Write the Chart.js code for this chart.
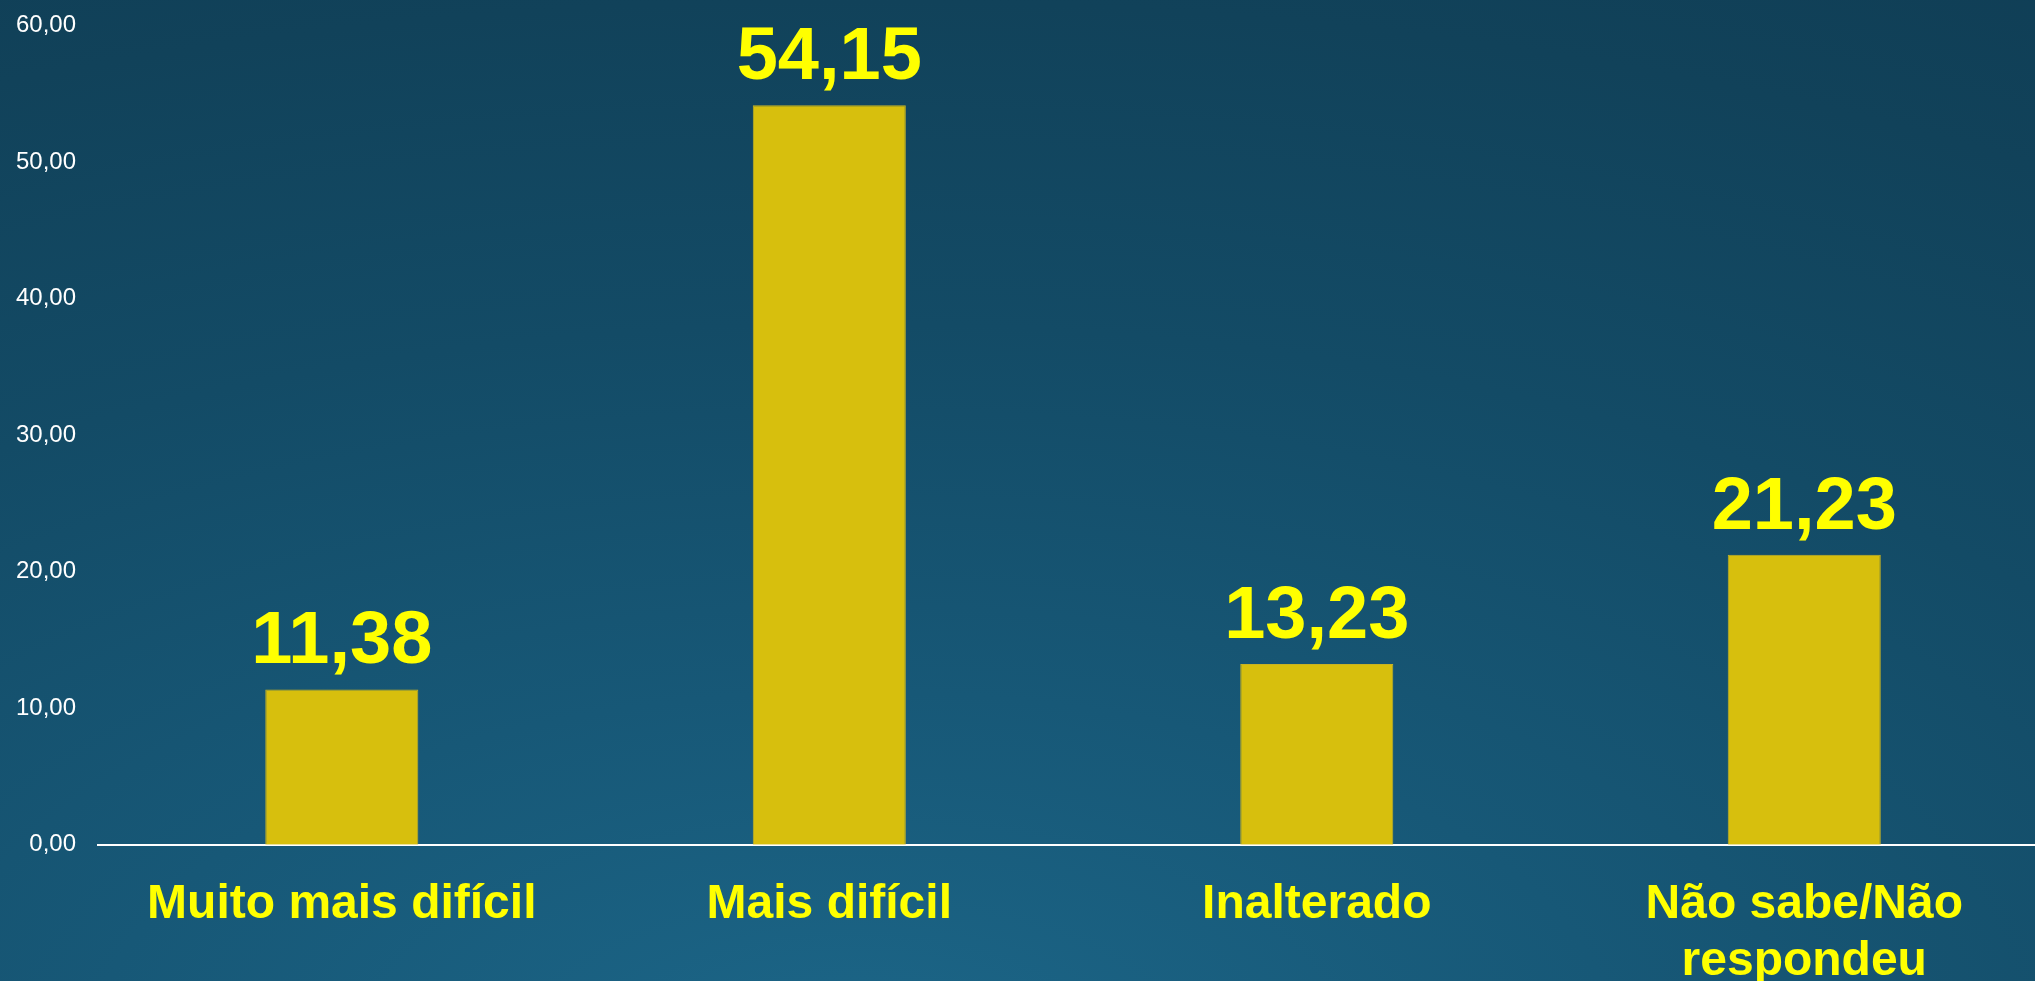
<!DOCTYPE html>
<html>
<head>
<meta charset="utf-8">
<script src="https://cdn.jsdelivr.net/npm/chart.js@4"></script>
<style>
  html, body { margin: 0; padding: 0; overflow: hidden; }
  body {
    width: 2035px; height: 981px;
    background: radial-gradient(ellipse 150% 150% at 42% 108%, #1c6688 0%, #175877 25%, #134b66 50%, #11425a 72%, #0e3950 100%);
  }
  #wrap { position: absolute; left: -6px; top: -11px; width: 2054px; height: 1033px; }
</style>
</head>
<body>
<div id="wrap"><canvas id="canvas"></canvas></div>
<script>
"use strict"

const categorias = [['Muito mais difícil'], ['Mais difícil'], ['Inalterado'], ['Não sabe/Não', 'respondeu']];
const valores = [11.38, 54.15, 13.23, 21.23];
const ticksY = [0, 10, 20, 30, 40, 50, 60];

function formata(v){
    return v.toFixed(2).replace('.', ',');
}

// etichette sopra le barre
const etichette = {
    id: 'etichette',
    afterDatasetsDraw(chart){
        let ctx = chart.ctx;
        let meta = chart.getDatasetMeta(0);
        ctx.save();
        ctx.fillStyle = '#ffff00';
        ctx.font = 'bold 74px "Liberation Sans", Arial, sans-serif';
        ctx.textAlign = 'center';
        ctx.textBaseline = 'alphabetic';
        meta.data.forEach(function(bar, i){
            ctx.fillText(formata(valores[i]), bar.x, bar.y - 26);
        });
        ctx.restore();
    }
};

function creaGrafico(){
    let ctx = document.getElementById('canvas').getContext('2d');
    let myChart = new Chart(ctx, {
        type: 'bar',
        data: {
            labels: categorias,
            datasets: [{
                data: valores,
                backgroundColor: '#d7bf0d',
                borderColor: '#c9b322',
                borderWidth: 1,
                categoryPercentage: 1,
                barPercentage: 0.314
            }]
        },
        options: {
            responsive: true,
            maintainAspectRatio: false,
            animation: false,
            layout: { padding: { left: 0, top: 4, right: 0, bottom: 0 } },
            plugins: {
                legend: { display: false },
                tooltip: { enabled: false }
            },
            scales: {
                x: {
                    grid: { display: false, drawTicks: false },
                    border: { display: true, color: '#ffffff', width: 2 },
                    ticks: {
                        color: '#ffff00',
                        padding: 31,
                        maxRotation: 0,
                        font: { family: '"Liberation Sans", Arial, sans-serif', size: 48, weight: 'bold', lineHeight: 1.2 }
                    }
                },
                y: {
                    min: 0,
                    max: 60,
                    afterBuildTicks(axis){
                        axis.ticks = ticksY.map(v => ({ value: v }));
                    },
                    grid: { display: false, drawTicks: false },
                    border: { display: false },
                    ticks: {
                        color: '#ffffff',
                        padding: 22,
                        font: { family: '"Liberation Sans", Arial, sans-serif', size: 24 },
                        callback: v => formata(v)
                    }
                }
            }
        },
        plugins: [etichette]
    });
}

creaGrafico();
</script>
</body>
</html>
